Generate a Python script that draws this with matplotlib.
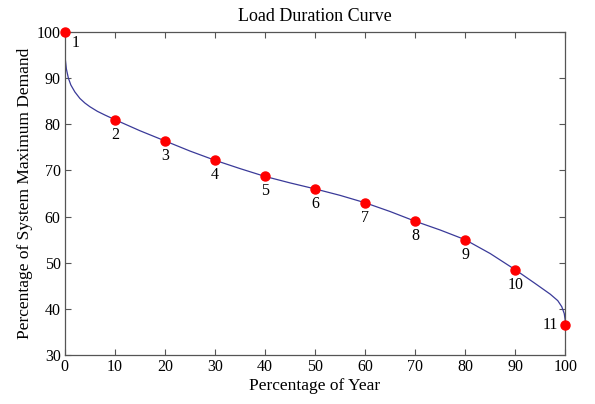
import matplotlib
matplotlib.use("Agg")
import matplotlib.pyplot as plt

# curve
curve_x = [0, 0.3, 0.7, 1.2, 2, 3, 4, 5, 6.5, 8, 10, 15, 20, 25, 30, 35, 40, 45, 50, 55,
           60, 65, 70, 75, 80, 85, 90, 94, 97, 98.5, 99.3, 99.8, 100]
curve_y = [95, 92, 90, 88.5, 87, 85.6, 84.6, 83.8, 82.8, 82, 81, 78.6, 76.4, 74.2, 72.2,
           70.4, 68.7, 67.3, 66, 64.6, 63, 61.1, 59, 57.1, 55, 52, 48.5, 45.5, 43.2, 41.8,
           40.5, 39, 37.5]

# marked points
pt_x = [0, 10, 20, 30, 40, 50, 60, 70, 80, 90, 100]
pt_y = [100, 81, 76.4, 72.2, 68.7, 66, 63, 59, 55, 48.5, 36.5]
pt_labels = ["1", "2", "3", "4", "5", "6", "7", "8", "9", "10", "11"]

serif = "Liberation Serif"
plt.rcParams["font.family"] = serif

fig = plt.figure(figsize=(5.95, 4.04), dpi=100)
ax = fig.add_axes([0.109, 0.121, 0.841, 0.800])

ax.plot(curve_x, curve_y, color="#3a3a99", lw=0.9)
ax.plot(pt_x, pt_y, "o", color="red", ms=6.5, clip_on=False, zorder=5)

for x, y, s in zip(pt_x, pt_y, pt_labels):
    if s == "1":
        off, ha, va = (5, -2), "left", "top"
    elif s == "11":
        off, ha, va = (-5, 0), "right", "center"
    else:
        off, ha, va = (0, -5), "center", "top"
    ax.annotate(s, (x, y), xytext=off, textcoords="offset points",
                ha=ha, va=va, fontsize=11.5)

ax.set_xlim(0, 100)
ax.set_ylim(30, 100)
ax.set_xticks(range(0, 101, 10))
ax.set_yticks(range(30, 101, 10))
ax.tick_params(direction="in", top=True, right=True, length=4, labelsize=11.5,
               color="#555555", pad=3)
for sp in ax.spines.values():
    sp.set_color("#555555")
    sp.set_linewidth(0.9)

ax.set_title("Load Duration Curve", fontsize=13, pad=8)
ax.set_xlabel("Percentage of Year", fontsize=12.5, labelpad=2)
ax.set_ylabel("Percentage of System Maximum Demand", fontsize=12.5, labelpad=3)

fig.savefig("out.png", dpi=100)
